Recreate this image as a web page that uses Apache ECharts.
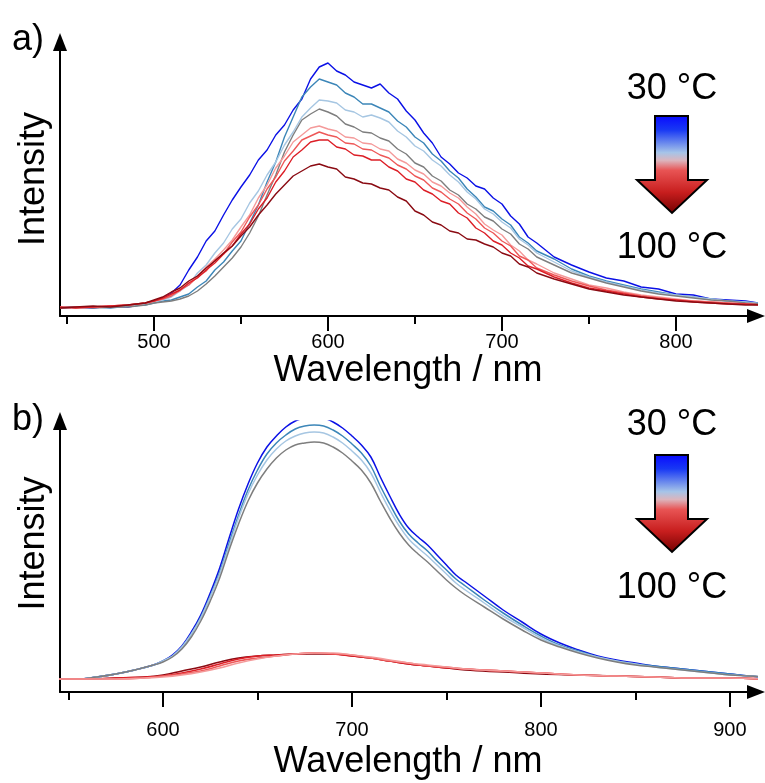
<!DOCTYPE html>
<html><head><meta charset="utf-8">
<script src="https://cdn.jsdelivr.net/npm/echarts@6/dist/echarts.min.js"></script>
<style>html,body{margin:0;padding:0;background:#fff}#c{width:765px;height:783px}</style>
</head><body><div id="c"></div>
<script>
const FONT = '"Liberation Sans", Arial, Helvetica, sans-serif';

// ---------- data ----------
const temps = ['30 °C','40 °C','50 °C','60 °C','70 °C','80 °C','90 °C','100 °C'];
const seriesColors = ['#0a10e6','#3c86b8','#a6c6e2','#7e7e7e','#f49a9a','#ee5858','#dc1e26','#8a0a12'];

// panel a: wavelength (nm)
const wlA = [446,455,465,475,485,495,
  500,505,510,515,520,525,530,535,540,545,
  550,555,560,565,570,575,580,585,590,595,
  600,605,610,615,620,625,630,635,640,645,
  650,655,660,665,670,675,680,685,690,695,
  700,705,710,715,720,
  730,740,750,760,770,780,790,800,810,820,830,840,851];

const a30 = [8,9,8,10,9,12,
  15,18,23,31,46,59,75,85,101,116,
  129,141,156,166,181,191,206,217,237,249,
  253,245,241,234,231,228,232,223,217,205,
  196,183,173,159,152,143,138,130,127,118,
  112,100,92,79,73,
  59,51,44,38,35,29,27,22,21,17,16,15,12];
const a40 = [8,9,9,8,10,11,
  13,15,16,19,22,29,35,46,54,65,
  75,93,111,134,154,179,199,219,229,237,
  234,231,223,219,212,212,208,204,195,189,
  179,173,162,155,145,138,127,119,109,105,
  97,91,79,73,65,
  57,47,40,35,31,27,24,21,19,17,15,14,12];
const a50 = [9,8,9,9,10,12,
  14,16,19,25,31,43,51,63,73,87,
  97,113,125,141,154,171,184,199,208,216,
  215,213,206,204,199,201,198,194,185,179,
  170,165,156,150,141,134,124,117,107,102,
  94,88,77,71,63,
  54,45,39,34,30,26,23,21,19,17,15,14,12];
const a60 = [8,9,8,9,9,11,
  13,14,15,17,20,25,32,40,49,58,
  69,83,100,121,141,164,181,196,202,207,
  204,200,192,189,184,183,178,175,167,162,
  153,149,140,135,126,121,112,107,99,95,
  87,82,72,67,59,
  51,43,38,33,29,25,22,20,18,16,15,13,12];
const a70 = [9,8,9,10,11,13,
  15,17,21,25,33,40,49,57,66,76,
  89,101,118,131,148,160,174,181,188,190,
  187,185,179,178,173,172,167,165,157,153,
  146,142,134,130,123,118,109,102,92,86,
  81,71,65,56,52,
  43,37,31,28,24,21,19,17,15,14,13,12,11];
const a80 = [8,9,9,10,11,13,
  15,17,20,26,31,39,45,56,62,74,
  84,99,111,127,139,155,165,176,180,184,
  181,179,173,172,167,166,161,158,151,147,
  140,136,128,124,117,112,103,97,88,83,
  75,70,60,56,48,
  41,35,30,26,23,20,18,16,15,14,13,12,11];
const a90 = [9,8,9,10,11,13,
  15,18,22,26,33,38,46,53,62,70,
  82,92,107,118,134,145,159,166,174,176,
  176,169,167,161,160,156,156,149,145,137,
  134,126,122,115,112,103,98,88,83,75,
  71,63,58,50,47,
  39,33,28,25,22,19,17,16,14,13,12,12,11];
const a100 = [8,9,10,9,11,13,
  16,19,24,28,35,40,48,55,63,70,
  80,89,101,111,122,131,140,145,150,152,
  149,147,139,137,133,132,128,126,119,115,
  105,101,94,91,85,83,77,76,72,69,
  63,60,52,49,43,
  37,32,27,24,21,19,17,15,14,13,12,11,11];

// panel b: wavelength (nm)
const wlB = [545,555,565,575,585,595,
  600,605,610,615,620,625,630,635,640,645,
  650,655,660,665,670,675,680,685,690,695,
  700,705,710,715,720,725,730,735,740,745,
  750,755,760,
  770,780,790,800,810,820,830,840,850,860,870,880,890,900,910,918];
const b30 = [13,13,15,18,22,27,
  31,37,46,60,77,99,124,154,183,208,
  229,245,256,265,271,274,275,274,270,264,
  256,247,235,215,196,178,164,155,147,137,
  127,117,110,
  96,82,70,58,49,42,36,32,29,26,24,22,20,18,16,15];
const b40 = [13,13,15,18,22,27,
  31,36,45,58,75,96,120,149,177,202,
  222,238,249,257,263,266,267,266,262,256,
  248,239,226,206,188,171,158,149,141,131,
  122,113,106,
  92,79,67,56,47,41,35,31,28,26,24,22,20,18,16,15];
const b50 = [13,13,15,18,22,27,
  31,36,45,58,74,95,118,146,174,198,
  217,232,243,251,256,259,260,259,255,249,
  241,232,219,200,182,166,153,144,136,127,
  118,109,102,
  89,76,65,54,46,40,35,31,28,25,23,21,19,17,16,15];
const b60 = [13,13,15,18,22,27,
  30,35,43,55,71,91,114,142,168,191,
  209,223,234,242,247,249,250,249,245,239,
  231,222,209,191,174,159,147,138,130,121,
  112,104,97,
  85,73,62,52,45,39,34,30,27,25,23,21,19,17,16,15];
const wlBr = [545,560,575,590,600,610,620,630,640,650,660,670,680,690,700,710,720,730,740,750,760,780,800,820,840,860,880,900,918];
const b70 = [13,13,13,14,15,17,20,24,29,33,36,38,39,39,37,35,32,29,27,25,23,21,19,17,16,15,14,14,13];
const b80 = [13,13,13,14,16,18,21,26,31,34,36,38,39,38,37,34,31,29,26,25,23,21,19,17,16,15,14,14,13];
const b90 = [13,13,14,15,16,19,23,28,33,36,37,38,39,38,36,34,31,28,26,24,23,21,19,17,16,15,14,14,13];
const b100 = [13,13,14,15,17,21,25,30,34,36,37,38,38,38,36,34,31,28,26,24,22,20,18,17,16,15,14,14,13];

const majorA = [500,600,700,800];
const minorA = [450,550,650,750];
const majorB = [600,700,800,900];
const minorB = [550,650,750,850];

// ---------- chart ----------
const chart = echarts.init(document.getElementById('c'), null, {renderer:'canvas'});
const axisLineStyle = {color:'#000', width:2};

function mainX(gi, min, max, majors, margin, nameGap){
  return {type:'value', gridIndex:gi, min, max, position:'bottom', offset:0,
    axisLine:{show:true, onZero:false, lineStyle:axisLineStyle, symbol:['none','triangle'], symbolSize:[14,18]},
    axisTick:{show:true, inside:false, customValues:majors, length:15, lineStyle:axisLineStyle},
    axisLabel:{show:true, customValues:majors, margin, color:'#000', fontSize:20, fontFamily:FONT},
    splitLine:{show:false},
    name:'Wavelength / nm', nameLocation:'middle', nameGap,
    nameTextStyle:{color:'#000', fontSize:36, fontFamily:FONT}};
}
function minorX(gi, min, max, minors){
  return {type:'value', gridIndex:gi, min, max, position:'bottom', offset:0,
    axisLine:{show:false}, axisLabel:{show:false}, splitLine:{show:false},
    axisTick:{show:true, inside:false, customValues:minors, length:8, lineStyle:axisLineStyle}};
}
function yAx(gi, max, pad){
  return {type:'value', gridIndex:gi, min:0, max,
    axisLine:{show:true, onZero:false, lineStyle:axisLineStyle, symbol:['none','triangle'], symbolSize:[14,18]},
    axisTick:{show:false}, axisLabel:{show:false}, splitLine:{show:false},
    name:'Intensity', nameLocation:'middle', nameRotate:90, nameGap:8,
    nameTextStyle:{color:'#000', fontSize:36, fontFamily:FONT, padding:pad}};
}

const series = [];
[a30,a40,a50,a60,a70,a80,a90,a100].forEach((arr,k)=>{
  series.push({name:temps[k], type:'line', xAxisIndex:0, yAxisIndex:0, showSymbol:false, symbol:'none',
    data: wlA.map((w,i)=>[w,arr[i]]), lineStyle:{color:seriesColors[k], width:1.4}, itemStyle:{color:seriesColors[k]}, silent:true});
});
[b30,b40,b50,b60].forEach((arr,k)=>{
  series.push({name:temps[k]+' b', type:'line', xAxisIndex:2, yAxisIndex:1, showSymbol:false, symbol:'none', smooth:0.4,
    data: wlB.map((w,i)=>[w,arr[i]]), lineStyle:{color:seriesColors[k], width:1.5}, itemStyle:{color:seriesColors[k]}, silent:true});
});
// red family in panel b: darkest drawn first, lightest on top
const redB = [b70,b80,b90,b100];
[3,2,1,0].forEach((k)=>{
  const arr = redB[k];
  series.push({name:temps[k+4]+' b', type:'line', xAxisIndex:2, yAxisIndex:1, showSymbol:false, symbol:'none', smooth:0.4,
    data: wlBr.map((w,i)=>[w,arr[i]]), lineStyle:{color:seriesColors[k+4], width:1.6}, itemStyle:{color:seriesColors[k+4]}, silent:true});
});

function tempArrow(top){
  const t = top;
  return {type:'polygon', z:100,
    shape:{points:[[655,t],[688,t],[688,t+64],[707,t+64],[672,t+97],[637,t+64],[655,t+64]]},
    style:{fill:new echarts.graphic.LinearGradient(0,0,0,1,[
      {offset:0,color:'#0808ff'},{offset:0.15,color:'#1838f4'},{offset:0.38,color:'#a6c4e8'},
      {offset:0.46,color:'#dcb4bc'},{offset:0.56,color:'#e85454'},{offset:0.78,color:'#c81e1e'},{offset:1,color:'#720000'}]),
      stroke:'#000', lineWidth:2, lineJoin:'miter'}};
}
function label(text, x, y){
  return {type:'text', x, y, z:100, style:{text, fill:'#000', font:'36px '+FONT, align:'center', verticalAlign:'middle'}};
}

chart.setOption({
  animation:false,
  backgroundColor:'#ffffff',
  grid:[{left:60, right:9, top:42, height:274, containLabel:false},
        {left:60, right:9, top:421, bottom:91, containLabel:false}],
  xAxis:[mainX(0,446,846,majorA,16,33), minorX(0,446,846,minorA),
         mainX(1,545.5,913.8,majorB,28,52), minorX(1,545.5,913.8,minorB)],
  yAxis:[yAx(0,274,[0,0,0,0]), yAx(1,271,[0,0,0,26])],
  series,
  graphic:[
    label('a)',28,40), label('b)',28,420),
    label('30 °C',672,89), tempArrow(116), label('100 °C',672,248),
    label('30 °C',672,425), tempArrow(455), label('100 °C',672,588)
  ]
});
</script>
</body></html>
